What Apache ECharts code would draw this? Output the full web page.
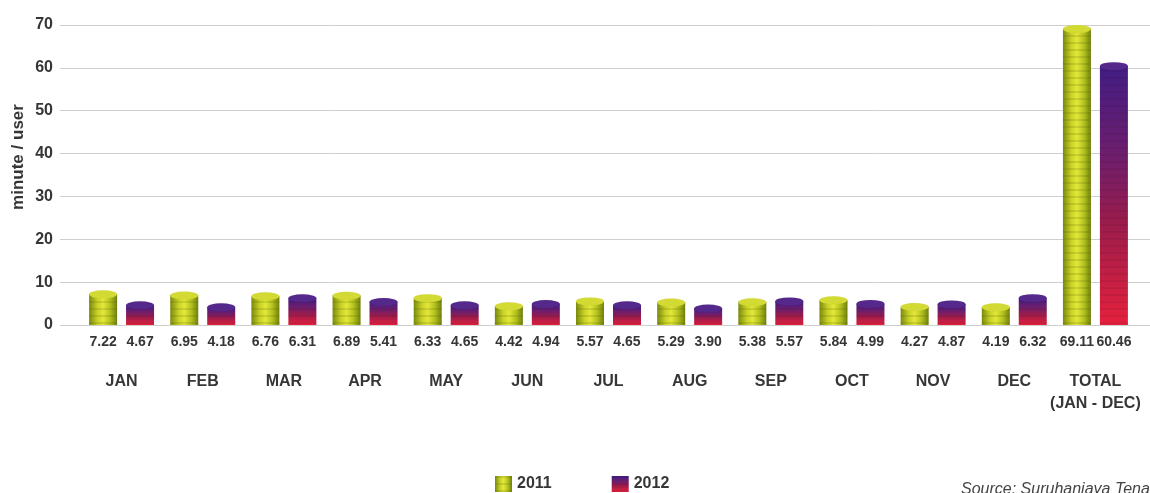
<!DOCTYPE html>
<html>
<head>
<meta charset="utf-8">
<script src="https://cdn.jsdelivr.net/npm/echarts@6/dist/echarts.min.js"></script>
<style>html,body{margin:0;padding:0;background:#fff;}#c{width:1150px;height:493px;}</style>
</head>
<body>
<div id="c"></div>
<script>
const categories = ['JAN','FEB','MAR','APR','MAY','JUN','JUL','AUG','SEP','OCT','NOV','DEC','TOTAL\n(JAN - DEC)'];
const values2011 = [7.22,6.95,6.76,6.89,6.33,4.42,5.57,5.29,5.38,5.84,4.27,4.19,69.11];
const values2012 = [4.67,4.18,6.31,5.41,4.65,4.94,4.65,3.90,5.57,4.99,4.87,6.32,60.46];
const seriesNames = ['2011','2012'];
const yTicks = {min:0, max:70, interval:10};

const FONT = '"Liberation Sans", Arial, sans-serif';
const TXT = '#363636';

const grad2011 = {type:'linear',x:0,y:0,x2:1,y2:0,colorStops:[
  {offset:0,color:'#7a8a0e'},{offset:0.3,color:'#c9d226'},{offset:0.5,color:'#e3e83a'},{offset:0.75,color:'#b4c21e'},{offset:1,color:'#6f800e'}]};
const grad2012 = {type:'linear',x:0,y:0,x2:0,y2:1,colorStops:[
  {offset:0,color:'#421d84'},{offset:0.35,color:'#6e1e6c'},{offset:0.6,color:'#9a1c4c'},{offset:1,color:'#e6213d'}]};

const BW = 28, GAP = '32%';
const valueLabel = {show:true,position:'bottom',distance:10,color:TXT,fontFamily:FONT,fontWeight:'bold',fontSize:14,
                    formatter:p=>p.value.toFixed(2)};
const chart = echarts.init(document.getElementById('c'));
chart.setOption({
  backgroundColor:'#fff',
  animation:false,
  grid:[
    {left:60,right:0,top:25,bottom:168},
    {left:81,right:14,top:25,bottom:168}
  ],
  xAxis:[
    {gridIndex:0,type:'value',show:false,min:0,max:1},
    {gridIndex:1,type:'category',data:categories,
     axisLine:{show:false},axisTick:{show:false},
     axisLabel:{margin:46,color:TXT,fontFamily:FONT,fontWeight:'bold',fontSize:16,lineHeight:22,interval:0}}
  ],
  yAxis:[
    {gridIndex:0,type:'value',min:yTicks.min,max:yTicks.max,interval:yTicks.interval,
     axisLine:{show:false},axisTick:{show:false},
     axisLabel:{margin:7,color:TXT,fontFamily:FONT,fontWeight:'bold',fontSize:16},
     splitLine:{lineStyle:{color:'#cfcfcf',width:1}}},
    {gridIndex:1,type:'value',min:yTicks.min,max:yTicks.max,interval:yTicks.interval,show:false,splitLine:{show:false}}
  ],
  legend:{
    data:seriesNames,left:490,top:471,itemWidth:17,itemHeight:16,itemGap:60,
    icon:'rect',
    textStyle:{color:TXT,fontFamily:FONT,fontWeight:'bold',fontSize:16}
  },
  graphic:[
    {type:'text',x:18,y:157,rotation:Math.PI/2,
     style:{text:'minute / user',fill:TXT,font:'bold 17px '+FONT,textAlign:'center',textVerticalAlign:'middle'}},
    {type:'text',left:961,top:482,
     style:{text:'Source: Suruhanjaya Tenaga',fill:'#444',font:'italic 16px "Liberation Sans", Arial, sans-serif'}}
  ],
  series:[
    {name:'2011',type:'bar',xAxisIndex:1,yAxisIndex:1,data:values2011,barWidth:BW,barGap:GAP,
     itemStyle:{color:grad2011,decal:{symbol:'rect',dashArrayX:[1,0],dashArrayY:[2,5],rotation:0,color:'rgba(90,100,0,0.18)'}},z:2,
     label:valueLabel},
    {name:'2012',type:'bar',xAxisIndex:1,yAxisIndex:1,data:values2012,barWidth:BW,barGap:GAP,
     itemStyle:{color:grad2012,decal:{symbol:'rect',dashArrayX:[1,0],dashArrayY:[2,5],rotation:0,color:'rgba(40,0,20,0.08)'}},z:2,
     label:valueLabel},
    {name:'cap2011',type:'pictorialBar',xAxisIndex:1,yAxisIndex:1,data:values2011,barWidth:BW,barGap:GAP,
     symbol:'circle',symbolSize:[BW,8],symbolPosition:'end',symbolOffset:[0,'-50%'],z:3,
     itemStyle:{color:'#d3da34',borderColor:'#8d9c14',borderWidth:1},tooltip:{show:false}},
    {name:'cap2012',type:'pictorialBar',xAxisIndex:1,yAxisIndex:1,data:values2012,barWidth:BW,barGap:GAP,
     symbol:'circle',symbolSize:[BW,8],symbolPosition:'end',symbolOffset:[0,'-50%'],z:3,
     itemStyle:{color:'#55298c',borderColor:'#37186a',borderWidth:1},tooltip:{show:false}}
  ]
});
</script>
</body>
</html>
